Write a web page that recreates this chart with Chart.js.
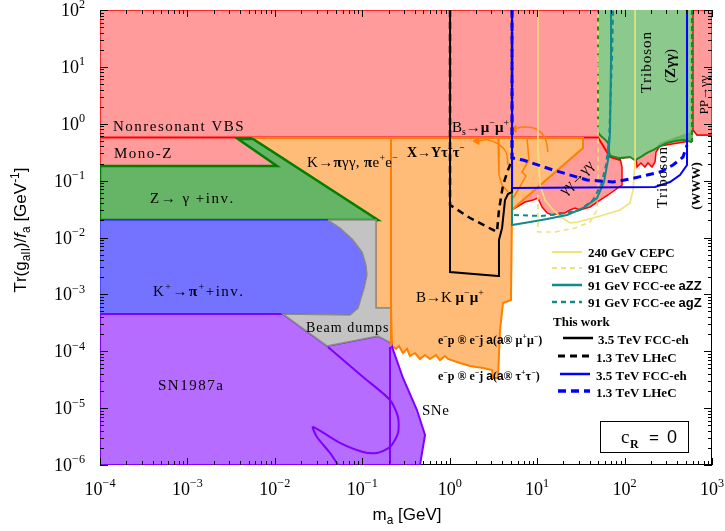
<!DOCTYPE html>
<html>
<head>
<meta charset="utf-8">
<script src="https://cdn.jsdelivr.net/npm/chart.js@4.4.0/dist/chart.umd.min.js"></script>
<style>
  html, body { margin: 0; padding: 0; background: #fff; }
  canvas { display: block; }
</style>
</head>
<body>
<canvas id="c" width="725" height="531"></canvas>
<script>
// ---- excluded regions: [m_a (GeV), Tr(g_aII)/f_a (GeV^-1)] ----
const vbsMonoZDiphoton = [
  [1e-4,100],[1000,100],[1000,0.634],[674,0.634],[606,0.777],[560,0.497],[254,0.406],
  [229,0.319],[223,0.213],[206,0.1736],[185,0.2042],[171,0.1736],[154,0.2042],[138.7,0.1736],
  [135,0.260],[88.7,0.250],[93.5,0.1736],[93.5,0.0838],[77.7,0.0684],[64.7,0.0559],[52.4,0.0456],
  [40.2,0.0344],[30.9,0.0305],[27.1,0.0330],[23.8,0.0305],[20.8,0.0270],[18.3,0.0270],[14.8,0.0249],
  [13.0,0.0270],[11.4,0.0344],[10.2,0.0495],[8.97,0.0456],[7.26,0.0421],[6.37,0.0373],[5.16,0.0305],
  [5.16,0.518],[0.01145,0.518],[0.01145,0.1808],[1e-4,0.1808],[1e-4,100]
];
const vbsEdge = [[1e-4,0.573],[49.7,0.573],[68.1,0.260],[88.7,0.2305]];
const diphotonPP = [[606,100],[606,0.777],[674,0.634],[1000,0.634],[1000,100],[606,100]];
const tribosonZgg = [
  [49.7,100],[591,100],[591,0.478],[466,0.518],[306,0.459],[212,0.345],[181,0.306],[132,0.2305],
  [115,0.260],[88.7,0.250],[68.1,0.282],[64.7,0.459],[52.4,0.634],[49.7,0.716],[49.7,100]
];
const tribosonOverlap = [
  [212,0.345],[254,0.459],[358,0.562],[518,0.688],[606,0.746],[606,0.478],[466,0.518],[306,0.459],[212,0.345]
];
const tribosonLowerEdge = [
  [49.7,0.716],[52.4,0.634],[64.7,0.459],[68.1,0.282],[88.7,0.250],[115,0.260],[132,0.2305],
  [181,0.306],[212,0.345],[306,0.459],[466,0.518],[591,0.478]
];
const tribosonLeftEdge = [[49.7,100],[49.7,0.716]];
const tribosonRightEdge = [[591,100],[591,0.478]];
const mesonDecays = [
  [5.48e-3,0.562],[33.5,0.562],[33.5,0.375],[6.89,0.0456],[5.16,0.0305],[5.02,7.96e-4],[4.07,7.06e-4],
  [3.76,2.36e-4],[3.57,3.39e-5],[3.13,3.39e-5],[3.05,4.68e-5],[2.40,5.08e-5],[1.71,5.50e-5],[1.31,6.22e-5],
  [0.956,7.31e-5],[0.883,8.25e-5],[0.774,7.02e-5],[0.697,8.59e-5],[0.595,7.31e-5],[0.522,8.59e-5],
  [0.457,7.31e-5],[0.401,9.32e-5],[0.351,8.25e-5],[0.325,1.10e-4],[0.292,9.32e-5],[0.263,1.24e-4],
  [0.243,1.10e-4],[0.219,1.24e-4],[0.213,5.76e-4],[0.1435,5.76e-4],[0.1435,0.0187],[0.151,0.0203],
  [5.48e-3,0.562]
];
const kaonEdge = [[0.213,0.562],[0.213,1.24e-4]];
const upsilonEdge = [[3.57,0.562],[3.66,0.1256],[3.97,0.0838],[4.64,0.0631]];
const bsEdge = [[7.66,0.562],[8.07,0.2305],[6.71,0.1418],[7.46,0.1206],[6.04,0.0684],[5.30,0.0495]];
const upsilonArrow = [[4.64,0.1883],[4.40,0.319],[3.57,0.441],[2.74,0.518],[2.05,0.497]];
const bsArrow = [[13.3,0.319],[12.3,0.562],[9.70,0.809],[7.07,0.877],[5.44,0.809]];
const zToPhotonInv = [
  [1e-4,0.1808],[0.01058,0.1808],[3.79e-3,0.539],[5.62e-3,0.539],[0.151,0.0203],[1e-4,0.0203],[1e-4,0.1808]
];
const kaonToPionInv = [
  [1e-4,0.0203],[0.0427,0.0203],[0.0556,0.0147],[0.0783,9.04e-3],[0.0993,5.56e-3],[0.110,3.29e-3],
  [0.113,2.19e-3],[0.105,1.30e-3],[0.0893,5.76e-4],[0.0724,4.34e-4],[0.0124,4.52e-4],[1e-4,4.52e-4],
  [1e-4,0.0203]
];
const supernova = [
  [1e-4,4.52e-4],[0.0124,4.52e-4],[0.0395,1.24e-4],[0.151,1.855e-4],[0.213,1.40e-4],[0.219,1.19e-4],
  [0.292,3.39e-5],[0.422,9.27e-6],[0.522,3.37e-6],[0.457,1e-6],[1e-4,1e-6],[1e-4,4.52e-4]
];
const sn1987aEdge = [
  [0.0405,1.19e-4],[0.102,3.53e-5],[0.2075,1.39e-5],[0.256,6.98e-6],[0.256,3.65e-6],[0.2075,2.07e-6],
  [0.147,1.63e-6],[0.102,1.69e-6],[0.0556,2.44e-6],[0.0273,4.66e-6],[0.0303,3.11e-6],[0.0427,1.63e-6],
  [0.0528,1e-6]
];
const sneEdge = [[0.2075,1.19e-4],[0.2075,1e-6]];
const beamDumps = [
  [0.0405,0.0203],[0.1435,0.0203],[0.1435,5.76e-4],[0.213,5.76e-4],[0.213,1.40e-4],[0.151,1.855e-4],
  [0.0395,1.24e-4],[0.0124,4.52e-4],[0.0724,4.34e-4],[0.0893,5.76e-4],[0.105,1.30e-3],[0.113,2.19e-3],
  [0.110,3.29e-3],[0.0993,5.56e-3],[0.0783,9.04e-3],[0.0556,0.0147],[0.0405,0.0203]
];

// ---- projected sensitivities ----
const cepc240 = [
  [10.2,100],[10.2,0.345],[10.8,0.0838],[12.3,0.0456],[15.2,0.0305],[19.3,0.0220],[23.8,0.0180],
  [29.3,0.0187],[52.4,0.0239],[88.7,0.0305],[115,0.0404],[125,0.0684],[132,0.2305],[132,100]
];
const cepc91 = [
  [10.2,0.0559],[10.2,0.0125],[16.0,0.0125],[27.1,0.0147],[40.2,0.0187],[48.4,0.0305],[49.7,0.0559],[49.7,100]
];
const fccZZ = [
  [5.16,0.0684],[5.16,0.0166],[8.29,0.0187],[13.0,0.0211],[22.0,0.0249],[33.5,0.0330],[48.4,0.0495],
  [58.2,0.0946],[64.7,0.2305],[68.1,0.688],[70.0,13.2],[70.0,100]
];
const fccGZ = [
  [5.44,0.0249],[10.8,0.0239],[18.3,0.0259],[30.9,0.0305],[43.5,0.0456],[53.8,0.0838],[61.3,0.1883],
  [66.4,0.518],[71.8,13.2],[73.8,100]
];
const fccehMuMu = [
  [1.008,100],[1.008,2.475e-3],[3.57,2.10e-3],[3.66,9.04e-3],[3.97,0.0147],[4.29,0.0456],[4.64,0.0582],
  [5.16,0.0631],[5.16,100]
];
const lhecMuMu = [
  [1.008,100],[1.008,0.0373],[1.71,0.0220],[3.47,0.0125],[3.66,0.0305],[4.07,0.0838],[4.64,0.1538],
  [5.16,0.2305],[5.16,100]
];
const fccehTauTau = [
  [5.16,100],[5.16,0.0742],[223,0.0773],[331,0.0946],[430,0.1256],[518,0.1883],[518,100]
];
const lhecTauTau = [
  [5.16,100],[5.16,0.250],[6.89,0.2305],[15.2,0.1538],[37.2,0.1026],[73.8,0.0946],[115,0.1068],
  [181,0.1256],[254,0.1418],[358,0.1883],[466,0.260],[518,0.423]
];

// ---- axis ticks ----
const xTickExponents = [-4, -3, -2, -1, 0, 1, 2, 3];
const yTickExponents = [-6, -5, -4, -3, -2, -1, 0, 1, 2];

// ---- styles ----
const PINK = '#ff9b9b', RED = '#ff0000';
const ORANGE_FILL = '#ffbb78', ORANGE = '#ff8000';
const GREEN_FILL = '#66b466', GREEN = '#008000';
const TRI_FILL = '#8cc98c', TRI_DARK = '#6ab36a', TRI_EDGE = '#1f8a1f';
const BLUE_FILL = '#7373ff', BLUE_EDGE = '#2020ff';
const GRAY_FILL = '#c3c3c3', GRAY_EDGE = '#8c8c8c';
const PURPLE_FILL = '#b66dff', PURPLE = '#7f00ff';
const lineStyles = {
  cepc240:     { color: '#efe27a', width: 1.6, dash: [] },
  cepc91:      { color: '#efe27a', width: 1.6, dash: [5, 4] },
  fccZZ:       { color: '#138a8a', width: 2,   dash: [] },
  fccGZ:       { color: '#138a8a', width: 2,   dash: [5, 4] },
  fccehMuMu:   { color: '#000000', width: 2,   dash: [] },
  lhecMuMu:    { color: '#000000', width: 2.5, dash: [7, 5] },
  fccehTauTau: { color: '#0000ff', width: 2,   dash: [] },
  lhecTauTau:  { color: '#0000ff', width: 3,   dash: [8, 5] }
};
const SERIF = '"Liberation Serif", "Times New Roman", serif';
const SANS = '"Liberation Sans", Arial, sans-serif';

// ---- datasets, listed bottom layer first ----
const toPts = a => a.map(([x, y]) => ({ x, y }));
const datasets = [];
function addRegion(points, fill, border, width, extra) {
  datasets.push(Object.assign({
    data: toPts(points), fill: 'shape', backgroundColor: fill,
    borderColor: border || 'rgba(0,0,0,0)', borderWidth: width || 0,
    pointRadius: 0, tension: 0
  }, extra || {}));
}
function addLine(points, color, width, dash, extra) {
  datasets.push(Object.assign({
    data: toPts(points), fill: false, borderColor: color, borderWidth: width,
    borderDash: dash || [], pointRadius: 0, tension: 0
  }, extra || {}));
}
function addArrowTip(point, color) {
  datasets.push({
    data: toPts([point]), showLine: false, pointStyle: 'triangle', pointRadius: 4,
    pointRotation: 270, pointBackgroundColor: color, pointBorderColor: color, borderWidth: 1
  });
}
function addSeries(points, key) {
  const s = lineStyles[key];
  addLine(points, s.color, s.width, s.dash);
}

addRegion(vbsMonoZDiphoton, PINK, RED, 1.5);
addRegion(diphotonPP, PINK, RED, 1.5);
addRegion(tribosonZgg, TRI_FILL);
addRegion(tribosonOverlap, TRI_DARK);
addLine(vbsEdge, RED, 2);
addLine(tribosonLowerEdge, TRI_EDGE, 2, [], { tension: 0.2 });
addLine(tribosonLeftEdge, TRI_EDGE, 2, [5, 3]);
addLine(tribosonRightEdge, TRI_EDGE, 2.2, [5, 3]);
addRegion(mesonDecays, ORANGE_FILL, ORANGE, 2);
addRegion(zToPhotonInv, GREEN_FILL, GREEN, 2.5);
addRegion(kaonToPionInv, BLUE_FILL, BLUE_EDGE, 1);
addRegion(supernova, PURPLE_FILL, PURPLE, 2);
addLine(sn1987aEdge, PURPLE, 2, [], { tension: 0.25 });
addLine(sneEdge, PURPLE, 2);
addRegion(beamDumps, GRAY_FILL, GRAY_EDGE, 1.5);
addLine(kaonEdge, ORANGE, 2);
addLine(upsilonEdge, ORANGE, 1.5);
addLine(bsEdge, ORANGE, 1.5);
addLine(upsilonArrow, ORANGE, 1.5, [], { tension: 0.4 });
addArrowTip(upsilonArrow[upsilonArrow.length - 1], ORANGE);
addLine(bsArrow, ORANGE, 1.5, [], { tension: 0.4 });
addArrowTip(bsArrow[bsArrow.length - 1], ORANGE);
addSeries(cepc240, 'cepc240');
addSeries(cepc91, 'cepc91');
addSeries(fccZZ, 'fccZZ');
addSeries(fccGZ, 'fccGZ');
addSeries(fccehMuMu, 'fccehMuMu');
addSeries(lhecMuMu, 'lhecMuMu');
addSeries(fccehTauTau, 'fccehTauTau');
addSeries(lhecTauTau, 'lhecTauTau');
datasets.forEach((d, i) => { d.order = datasets.length - i; });

// ---- text annotations (offsets in px from the plot-area corner) ----
const regionLabels = [
  { t: 'Nonresonant VBS', dx: 13, dy: 121, size: 15, sp: 1.5 },
  { t: 'Mono-Z', dx: 14, dy: 148, size: 15, sp: 1.5 },
  { t: 'Z→ γ +inv.', dx: 50, dy: 193, size: 15, sp: 1.5 },
  { t: 'K→*{π}γγ, *{π}e^{+}e^{−}', dx: 207, dy: 157, size: 15, sp: 0.3 },
  { t: 'X→Yτ^{+}τ^{−}', dx: 307, dy: 147, size: 14, bold: true },
  { t: 'B_{s}→*{μ}^{−}*{μ}^{+}', dx: 352, dy: 122, size: 15 },
  { t: 'K^{+}→*{π}^{+}+inv.', dx: 53, dy: 286, size: 15, sp: 1.5 },
  { t: 'Beam dumps', dx: 206, dy: 322, size: 14, sp: 1 },
  { t: 'SN1987a', dx: 58, dy: 380, size: 15, sp: 1.5 },
  { t: 'B→K *{μ}^{−}*{μ}^{+}', dx: 316, dy: 292, size: 15 },
  { t: 'SNe', dx: 322, dy: 405, size: 15, sp: 0.5 },
  { t: 'γγ→γγ', dx: 476, dy: 167, size: 15, rot: -45 },
  { t: 'Triboson', dx: 546, dy: 52, size: 15, sp: 1, rot: -90 },
  { t: '(*{Zγγ})', dx: 570, dy: 56, size: 15, rot: -90 },
  { t: 'PP→γγ', dx: 603, dy: 85, size: 13, rot: -90 },
  { t: 'Triboson', dx: 562, dy: 167, size: 15, sp: 1, rot: -90 },
  { t: '(WWW)', dx: 595, dy: 176, size: 13, bold: true, rot: -90 }
];
const legendRows = [
  { key: 'cepc240', x0: 452, x1: 482, y: 242, t: '240 GeV CEPC', tx: 488, ty: 247 },
  { key: 'cepc91', x0: 452, x1: 482, y: 258, t: '91 GeV CEPC', tx: 488, ty: 263 },
  { key: 'fccZZ', x0: 452, x1: 482, y: 275, t: '91 GeV FCC-ee ${aZZ}', tx: 488, ty: 280 },
  { key: 'fccGZ', x0: 452, x1: 482, y: 292, t: '91 GeV FCC-ee ${agZ}', tx: 488, ty: 297 },
  { key: 'fccehMuMu', x0: 463, x1: 493, y: 328, t: '3.5 TeV FCC-eh', tx: 498, ty: 334 },
  { key: 'lhecMuMu', x0: 458, x1: 490, y: 346, t: '1.3 TeV LHeC', tx: 496, ty: 352 },
  { key: 'fccehTauTau', x0: 460, x1: 490, y: 364, t: '3.5 TeV FCC-eh', tx: 496, ty: 370 },
  { key: 'lhecTauTau', x0: 458, x1: 490, y: 381, t: '1.3 TeV LHeC', tx: 496, ty: 387 }
];
const legendNotes = [
  { t: 'This work', dx: 453, dy: 316, size: 13 },
  { t: 'e^{−}p ® e^{−}j ${a}(${a}® μ^{+}μ^{−})', dx: 338, dy: 334, size: 12 },
  { t: 'e^{−}p ® e^{−}j ${a}(${a}® τ^{+}τ^{−})', dx: 338, dy: 370, size: 12 }
];

// ---- rich text: ^{sup} _{sub} ${sans} *{bold} ~{italic} ----
function parseRich(str) {
  const out = []; const re = /([\^_$*~])\{([^}]*)\}/g; let last = 0, m;
  while ((m = re.exec(str))) {
    if (m.index > last) out.push({ t: str.slice(last, m.index), k: '' });
    out.push({ t: m[2], k: m[1] });
    last = re.lastIndex;
  }
  if (last < str.length) out.push({ t: str.slice(last), k: '' });
  return out;
}
function partFont(k, o) {
  const small = k === '^' || k === '_';
  const size = small ? o.size * (o.subScale || 0.66) : o.size;
  const fam = k === '$' ? SANS : (o.family || SERIF);
  const weight = (o.bold || k === '*') ? 'bold ' : '';
  const style = (k === '~' || o.italic) ? 'italic ' : '';
  return style + weight + size.toFixed(1) + 'px ' + fam;
}
function drawRich(ctx, str, x, y, o) {
  const parts = parseRich(str); const sp = o.sp || 0;
  let w = 0;
  for (const p of parts) {
    ctx.font = partFont(p.k, o);
    p.w = 0;
    for (const ch of p.t) p.w += ctx.measureText(ch).width + sp;
    w += p.w;
  }
  ctx.save();
  ctx.fillStyle = o.color || '#000'; ctx.textAlign = 'left'; ctx.textBaseline = 'alphabetic';
  ctx.translate(x, y);
  let cx = 0, by = 0;
  if (o.rot) { ctx.rotate(o.rot * Math.PI / 180); cx = -w / 2; by = o.size * 0.35; }
  else if (o.align === 'center') cx = -w / 2;
  else if (o.align === 'right') cx = -w;
  for (const p of parts) {
    ctx.font = partFont(p.k, o);
    const dy = p.k === '^' ? -o.size * 0.42 : p.k === '_' ? o.size * 0.22 : 0;
    for (const ch of p.t) { ctx.fillText(ch, cx, by + dy); cx += ctx.measureText(ch).width + sp; }
  }
  ctx.restore();
}

const decorations = {
  id: 'decorations',
  beforeDraw(chart) {
    const ctx = chart.ctx;
    ctx.save(); ctx.fillStyle = '#fff'; ctx.fillRect(0, 0, chart.width, chart.height); ctx.restore();
  },
  beforeDatasetsDraw(chart) {
    const { left, top, right, bottom } = chart.chartArea; const ctx = chart.ctx;
    ctx.save(); ctx.strokeStyle = '#000'; ctx.lineWidth = 1;
    ctx.strokeRect(left + 0.5, top + 0.5, right - left - 1, bottom - top - 1);
    ctx.restore();
  },
  afterDatasetsDraw(chart) {
    const ctx = chart.ctx; const { left, top, right, bottom } = chart.chartArea;
    const xs = chart.scales.x, ys = chart.scales.y;
    // inward ticks on all four sides
    ctx.save(); ctx.strokeStyle = '#000'; ctx.lineWidth = 1; ctx.beginPath();
    xTickExponents.forEach((e, i) => {
      for (let m = 1; m <= 9; m++) {
        if (i === xTickExponents.length - 1 && m > 1) break;
        const px = Math.round(xs.getPixelForValue(m * Math.pow(10, e))) + 0.5;
        const len = m === 1 ? 7 : 4;
        ctx.moveTo(px, bottom); ctx.lineTo(px, bottom - len);
        ctx.moveTo(px, top); ctx.lineTo(px, top + len);
      }
    });
    yTickExponents.forEach((e, i) => {
      for (let m = 1; m <= 9; m++) {
        if (i === yTickExponents.length - 1 && m > 1) break;
        const py = Math.round(ys.getPixelForValue(m * Math.pow(10, e))) + 0.5;
        const len = m === 1 ? 8 : 4;
        ctx.moveTo(left, py); ctx.lineTo(left + len, py);
        ctx.moveTo(right, py); ctx.lineTo(right - len, py);
      }
    });
    ctx.stroke(); ctx.restore();

    // tick labels
    xTickExponents.forEach(e => {
      const px = xs.getPixelForValue(Math.pow(10, e));
      drawRich(ctx, '10^{' + String(e).replace('-', '−') + '}', px, bottom + 30,
        { size: 18, align: 'center', subScale: 0.68 });
    });
    yTickExponents.forEach(e => {
      const py = ys.getPixelForValue(Math.pow(10, e));
      drawRich(ctx, '10^{' + String(e).replace('-', '−') + '}', left - 15, py + 6,
        { size: 18, align: 'right', subScale: 0.68 });
    });

    // axis titles
    drawRich(ctx, 'm_{a} [GeV]', left + 307, bottom + 55, { size: 17, family: SANS, align: 'center', subScale: 0.7 });
    drawRich(ctx, 'Tr(g_{aII})/~{f}_{a} [GeV^{-1}]', left - 80, top + 220,
      { size: 17, family: SANS, rot: -90, subScale: 0.7 });

    // region labels
    regionLabels.forEach(l => drawRich(ctx, l.t, left + l.dx, top + l.dy,
      { size: l.size, sp: l.sp, bold: l.bold, rot: l.rot }));

    // legend
    legendRows.forEach(r => {
      const s = lineStyles[r.key];
      ctx.save(); ctx.strokeStyle = s.color; ctx.lineWidth = s.width + 0.5; ctx.setLineDash(s.dash);
      ctx.beginPath(); ctx.moveTo(left + r.x0, top + r.y); ctx.lineTo(left + r.x1, top + r.y); ctx.stroke();
      ctx.restore();
      drawRich(ctx, r.t, left + r.tx, top + r.ty, { size: 13, bold: true });
    });
    legendNotes.forEach(n => drawRich(ctx, n.t, left + n.dx, top + n.dy, { size: n.size, bold: true }));

    // coupling box
    ctx.save(); ctx.strokeStyle = '#000'; ctx.lineWidth = 1;
    ctx.strokeRect(left + 500.5, top + 411.5, 88, 31); ctx.restore();
    drawRich(ctx, 'c', left + 521, top + 433, { size: 19 });
    drawRich(ctx, 'R', left + 530, top + 438, { size: 12, bold: true });
    drawRich(ctx, '=', left + 549, top + 433, { size: 17, family: SANS });
    drawRich(ctx, '0', left + 567, top + 433, { size: 18, family: SANS });
  }
};

new Chart(document.getElementById('c'), {
  type: 'line',
  data: { datasets },
  options: {
    responsive: false,
    animation: false,
    events: [],
    layout: { padding: { left: 100, top: 10, right: 13, bottom: 66 } },
    scales: {
      x: { type: 'logarithmic', min: 1e-4, max: 1e3, display: false },
      y: { type: 'logarithmic', min: 1e-6, max: 1e2, display: false }
    },
    plugins: { legend: { display: false }, tooltip: { enabled: false } }
  },
  plugins: [decorations]
});
</script>
</body>
</html>
